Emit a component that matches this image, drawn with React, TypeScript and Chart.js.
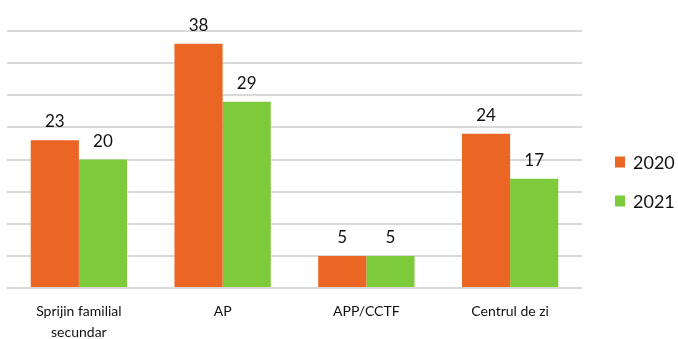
import React, { useEffect, useRef } from "react";
import { Chart, registerables } from "chart.js";

Chart.register(...registerables);

const categories: (string | string[])[] = [
  ["Sprijin familial", "secundar"],
  "AP",
  "APP/CCTF",
  "Centrul de zi",
];
const series2020 = [23, 38, 5, 24];
const series2021 = [20, 29, 5, 17];
const seriesLabels = ["2020", "2021"];
const colors = ["#EB6624", "#7DCB3A"];

const FONT = "Lato, 'Open Sans', sans-serif";

const valueLabels = {
  id: "valueLabels",
  afterDatasetsDraw(chart: any) {
    const ctx = chart.ctx;
    ctx.save();
    ctx.font = `17px ${FONT}`;
    ctx.fillStyle = "#111";
    ctx.textAlign = "center";
    ctx.textBaseline = "alphabetic";
    chart.data.datasets.forEach((ds: any, i: number) => {
      const meta = chart.getDatasetMeta(i);
      meta.data.forEach((bar: any, j: number) => {
        ctx.fillText(String(ds.data[j]), bar.x, bar.y - 13);
      });
    });
    ctx.restore();
  },
};

const sideLegend = {
  id: "sideLegend",
  afterDraw(chart: any) {
    const ctx = chart.ctx;
    const x0 = chart.chartArea.right + 33;
    const yStart = 162;
    const step = 39;
    ctx.save();
    ctx.font = `18px ${FONT}`;
    ctx.textAlign = "left";
    ctx.textBaseline = "middle";
    chart.data.datasets.forEach((ds: any, i: number) => {
      const y = yStart + i * step;
      ctx.fillStyle = ds.backgroundColor;
      ctx.fillRect(x0, y - 5.5, 10, 11);
      ctx.fillStyle = "#111";
      ctx.fillText(ds.label, x0 + 18, y + 1);
    });
    ctx.restore();
  },
};

export default function App() {
  const ref = useRef<HTMLCanvasElement>(null);
  useEffect(() => {
    if (!ref.current) return;
    const chart = new Chart(ref.current, {
      type: "bar",
      data: {
        labels: categories,
        datasets: [
          { label: seriesLabels[0], data: series2020, backgroundColor: colors[0] },
          { label: seriesLabels[1], data: series2021, backgroundColor: colors[1] },
        ],
      },
      options: {
        animation: false,
        responsive: true,
        maintainAspectRatio: false,
        layout: { padding: { left: 7, top: 31, right: 96, bottom: 0 } },
        datasets: { bar: { categoryPercentage: 0.67, barPercentage: 1.0 } },
        plugins: {
          title: { display: false },
          tooltip: { enabled: false },
          legend: { display: false },
        },
        scales: {
          x: {
            grid: { display: false, drawTicks: false },
            border: { display: false },
            ticks: {
              color: "#111",
              font: { family: FONT, size: 14, lineHeight: 1.5 },
              maxRotation: 0,
              padding: 13,
            },
            afterFit: (scale: any) => {
              scale.height = 51;
            },
          },
          y: {
            min: 0,
            max: 40,
            ticks: { display: false, stepSize: 5 },
            grid: { color: "#d9d9d9", lineWidth: 2, drawTicks: false },
            border: { display: false },
          },
        },
      },
      plugins: [valueLabels, sideLegend],
    });
    return () => chart.destroy();
  }, []);
  return (
    <div style={{ position: "absolute", left: 0, top: 0, width: 678, height: 339 }}>
      <canvas ref={ref} />
    </div>
  );
}
